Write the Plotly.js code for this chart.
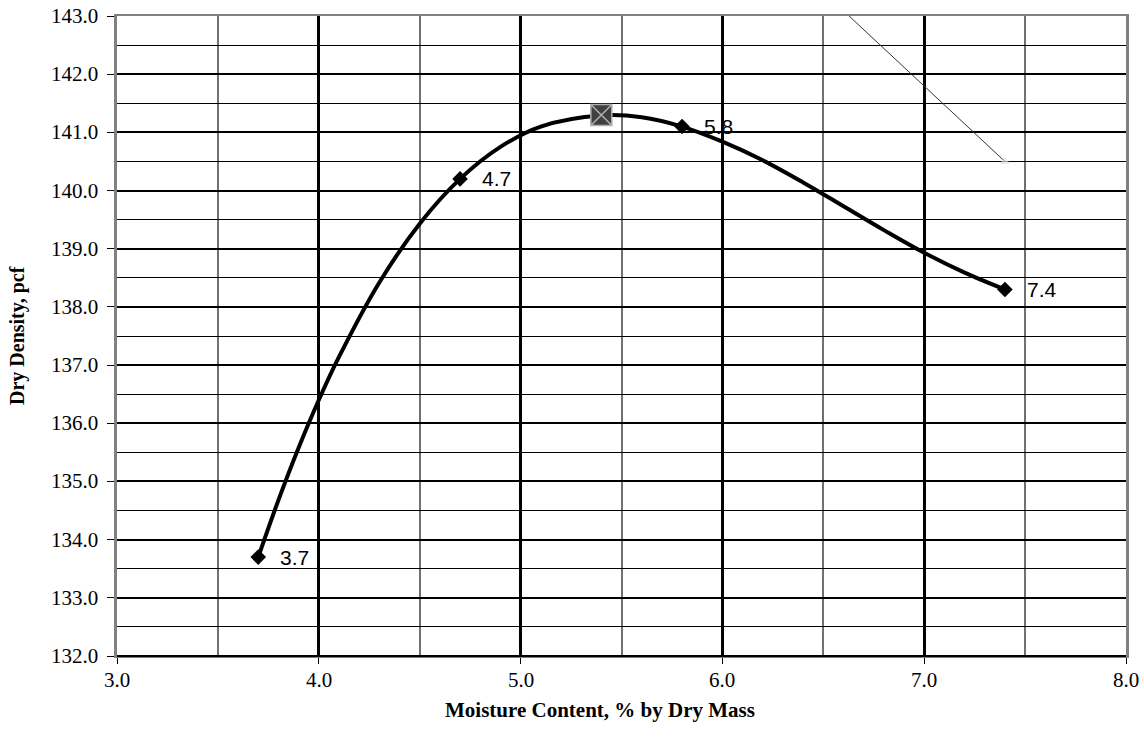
<!DOCTYPE html>
<html>
<head>
<meta charset="utf-8">
<script src="https://cdn.plot.ly/plotly-3.0.1.min.js"></script>
<style>
html,body{margin:0;padding:0;background:#fff;}
#chart{width:1144px;height:738px;}
</style>
</head>
<body>
<div id="chart"></div>
<script>
// Measured points
var moisture = [3.7, 4.7, 5.8, 7.4];
var density = [133.7, 140.2, 141.1, 138.3];
var pointLabels = ["3.7", "4.7", "5.8", "7.4"];

// Fitted curve
var curveX = [3.7, 3.8, 3.9, 4.0, 4.1, 4.3, 4.5, 4.7, 4.9, 5.1, 5.4, 5.6, 5.8, 6.0, 6.2, 6.4, 6.6, 6.8, 7.0, 7.2, 7.4];
var curveY = [133.7, 134.68, 135.58, 136.40, 137.14, 138.42, 139.43, 140.2, 140.75, 141.10, 141.29, 141.26, 141.1, 140.84, 140.52, 140.14, 139.73, 139.32, 138.93, 138.59, 138.3];

// Maximum dry density point
var peakX = [5.4];
var peakY = [141.3];

// Thin line (clipped at top of plot)
var zavX = [6.6, 7.4];
var zavY = [143.09, 140.5];

var xRange = [3, 8];
var yRange = [132, 143];
var xTicks = [3, 4, 5, 6, 7, 8];
var xTickText = ["3.0", "4.0", "5.0", "6.0", "7.0", "8.0"];
var yTicks = [132, 133, 134, 135, 136, 137, 138, 139, 140, 141, 142, 143];
var yTickText = ["132.0", "133.0", "134.0", "135.0", "136.0", "137.0", "138.0", "139.0", "140.0", "141.0", "142.0", "143.0"];

var xTitle = "Moisture Content, % by Dry Mass";
var yTitle = "Dry Density, pcf";

var serif = "Liberation Serif";
var sans = "Liberation Sans";

var traces = [
  {
    x: zavX, y: zavY, type: "scatter", mode: "lines+markers",
    line: {color: "#333333", width: 1},
    marker: {symbol: ["circle", "triangle-up"], size: [0, 9], color: "#dddddd", line: {width: 0}},
    hoverinfo: "skip", showlegend: false
  },
  {
    x: curveX, y: curveY, type: "scatter", mode: "lines",
    line: {color: "#000000", width: 4, shape: "spline", smoothing: 1},
    hoverinfo: "skip", showlegend: false
  },
  {
    x: moisture, y: density, type: "scatter", mode: "markers",
    marker: {symbol: "diamond", size: 12, color: "#000000"},
    showlegend: false
  },
  {
    x: peakX, y: peakY, type: "scatter", mode: "markers",
    marker: {symbol: "square-x", size: 21, color: "#404040", line: {color: "#b0b0b0", width: 1.5}},
    showlegend: false
  }
];

var annotations = moisture.map(function (mx, i) {
  return {
    x: mx, y: density[i], text: pointLabels[i], showarrow: false,
    xanchor: "left", yanchor: "middle", xshift: 20,
    font: {family: sans, size: 21, color: "#000"}
  };
});
// tick labels (serif, as in the reference)
xTicks.forEach(function (v, i) {
  annotations.push({
    xref: "paper", yref: "paper",
    x: (v - xRange[0]) / (xRange[1] - xRange[0]), y: 0, yshift: -24,
    xanchor: "center", yanchor: "middle", showarrow: false,
    text: xTickText[i], font: {family: serif, size: 21, color: "#000"}
  });
});
yTicks.forEach(function (v, i) {
  annotations.push({
    xref: "paper", yref: "paper",
    x: 0, y: (v - yRange[0]) / (yRange[1] - yRange[0]), xshift: -17,
    xanchor: "right", yanchor: "middle", showarrow: false,
    text: yTickText[i], font: {family: serif, size: 21, color: "#000"}
  });
});
// axis titles
annotations.push({
  xref: "paper", yref: "paper", x: 0.4787, y: 0, yshift: -54,
  xanchor: "center", yanchor: "middle", showarrow: false,
  text: "<b>" + xTitle + "</b>", font: {family: serif, size: 21, color: "#000"}
});
annotations.push({
  xref: "paper", yref: "paper", x: 0, y: 0.5, xshift: -100,
  xanchor: "center", yanchor: "middle", showarrow: false, textangle: -90,
  text: "<b>" + yTitle + "</b>", font: {family: serif, size: 20, color: "#000"}
});

var layout = {
  width: 1144, height: 738,
  margin: {l: 117, r: 18, t: 16, b: 82},
  paper_bgcolor: "#ffffff", plot_bgcolor: "#ffffff",
  showlegend: false,
  xaxis: {
    range: xRange, tickvals: xTicks, ticktext: xTickText, showticklabels: false,
    ticks: "outside", ticklen: 6, tickwidth: 1, tickcolor: "#000",
    showgrid: true, gridcolor: "#000000", gridwidth: 3,
    minor: {dtick: 0.5, showgrid: true, gridcolor: "#707070", gridwidth: 2, ticks: ""},
    showline: true, linecolor: "#808080", linewidth: 2, mirror: true,
    zeroline: false
  },
  yaxis: {
    range: yRange, tickvals: yTicks, ticktext: yTickText, showticklabels: false,
    ticks: "outside", ticklen: 7, tickwidth: 1, tickcolor: "#000",
    showgrid: true, gridcolor: "#000000", gridwidth: 2,
    minor: {dtick: 0.5, showgrid: true, gridcolor: "#000000", gridwidth: 1, ticks: ""},
    showline: true, linecolor: "#808080", linewidth: 3, mirror: true,
    zeroline: false
  },
  shapes: [
    {type: "line", xref: "paper", yref: "paper", x0: 0, x1: 1, y0: 0, y1: 0, line: {color: "#000", width: 2}}
  ],
  annotations: annotations
};

Plotly.newPlot("chart", traces, layout, {displayModeBar: false, staticPlot: true});
</script>
</body>
</html>
